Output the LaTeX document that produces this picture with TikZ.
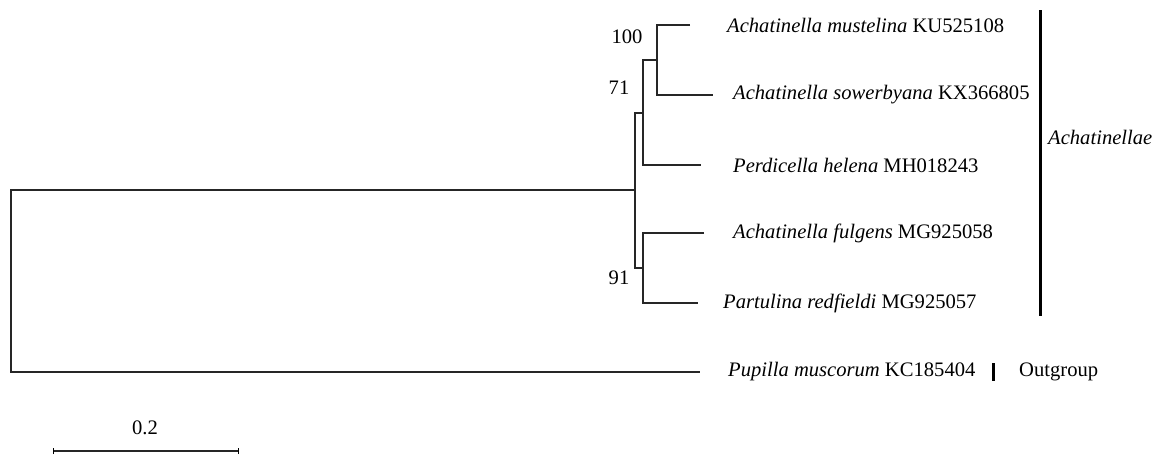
\documentclass[tikz,border=0pt]{standalone}
\usepackage{fontspec}
\setmainfont{Liberation Serif}
\begin{document}
\begin{tikzpicture}[x=1pt,y=-1pt,
  br/.style={line width=1.3pt,black!85},
  leaf/.style={anchor=west,inner sep=0pt,font=\fontsize{20.6}{24}\selectfont},
  boot/.style={inner sep=0pt,font=\fontsize{20.6}{24}\selectfont},
  bar/.style={line width=3pt}]
\useasboundingbox (0,0) rectangle (1158,456);
% internal nodes
\coordinate (root) at (11,190);
\coordinate (n1) at (635,190);
\coordinate (n71) at (643,113);
\coordinate (n100) at (657,60);
\coordinate (n91) at (643,268);
% leaf tips
\coordinate (t1) at (690,25);
\coordinate (t2) at (713,95);
\coordinate (t3) at (701,165);
\coordinate (t4) at (704,233);
\coordinate (t5) at (698,303);
\coordinate (t6) at (700,372);
% branches
\draw[br] (n1) -- (root) |- (t6);
\draw[br] (n71) -| (n1) |- (n91);
\draw[br] (n100) -| (n71) |- (t3);
\draw[br] (t1) -| (n100) |- (t2);
\draw[br] (t4) -| (n91) |- (t5);
% leaf labels
\node[leaf] (l1) at (727,25) {\textit{Achatinella mustelina} KU525108};
\node[leaf] (l2) at (733,95) {\textit{Achatinella sowerbyana} KX366805};
\node[leaf] (l3) at (733,165) {\textit{Perdicella helena} MH018243};
\node[leaf] (l4) at (733,233) {\textit{Achatinella fulgens} MG925058};
\node[leaf] (l5) at (723,303) {\textit{Partulina redfieldi} MG925057};
\node[leaf] (l6) at (728,372) {\textit{Pupilla muscorum} KC185404};
% bootstrap values
\node[boot] (b100) at (627,37) {100};
\node[boot] (b71) at (619,88) {71};
\node[boot] (b91) at (619,278) {91};
% clade bars
\coordinate (c1) at (1040,10);
\coordinate (c2) at (1040,316);
\draw[bar] (c1) -- (c2);
\node[leaf] (clade) at (1048,137) {\textit{Achatinellae}};
\coordinate (o1) at (993,363);
\coordinate (o2) at (993,381);
\draw[bar] (o1) -- (o2);
\node[leaf] (og) at (1019,372) {Outgroup};
% scale bar
\coordinate (s1) at (53,451);
\coordinate (s2) at (238,451);
\draw[br] (s1) -- (s2);
\draw[line width=1pt] ([yshift=-3]s1) -- ([yshift=3]s1);
\draw[line width=1pt] ([yshift=-3]s2) -- ([yshift=3]s2);
\node[boot] (sl) at (145,428) {0.2};
\end{tikzpicture}
\end{document}
